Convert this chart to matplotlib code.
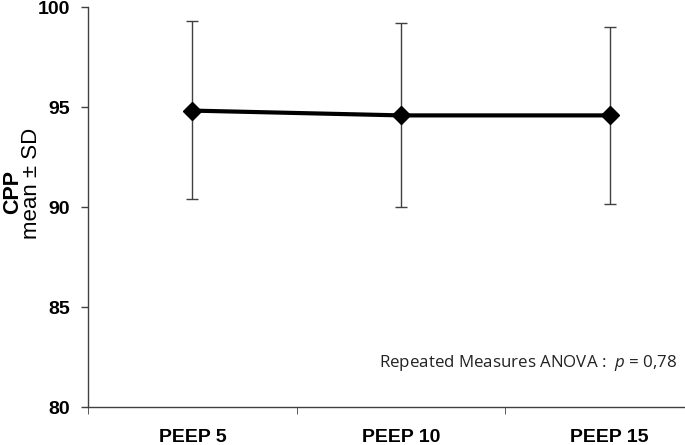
import matplotlib
matplotlib.use("Agg")
import matplotlib.pyplot as plt

plt.rcParams['font.family'] = ['Liberation Sans', 'DejaVu Sans']
plt.rcParams['mathtext.fontset'] = 'custom'
plt.rcParams['mathtext.rm'] = 'Open Sans'
plt.rcParams['mathtext.it'] = 'Open Sans:italic'

categories = ['PEEP 5', 'PEEP 10', 'PEEP 15']
means = [94.82, 94.58, 94.58]
upper = [99.28, 99.18, 99.0]
lower = [90.38, 90.0, 90.17]

err_low = [m - l for m, l in zip(means, lower)]
err_high = [u - m for m, u in zip(means, upper)]
x = list(range(len(categories)))

fig = plt.figure(figsize=(6.85, 4.45), dpi=100)
ax = fig.add_axes([88 / 685, 38 / 445, 626 / 685, 400 / 445])

ax.errorbar(x, means, yerr=[err_low, err_high], fmt='none', ecolor='#404040',
            elinewidth=1, capsize=4, capthick=1, zorder=2)
ax.plot(x, means, color='black', lw=3, marker='D', markersize=9, zorder=3)

ax.set_xlim(-0.5, 2.5)
ax.set_ylim(80, 100)
ax.set_yticks([80, 85, 90, 95, 100])
ax.set_xticks([0, 1, 2])
ax.set_xticklabels(categories, fontsize=14, fontweight='bold')
ax.tick_params(axis='x', length=0, pad=16)
ax.tick_params(axis='y', direction='out', length=5, width=1, color='#404040', labelsize=14, pad=8)
for lab in ax.get_yticklabels():
    lab.set_fontweight('bold')
ax.set_xticks([-0.5, 0.5, 1.5, 2.5], minor=True)
ax.tick_params(axis='x', which='minor', direction='out', length=5, color='#404040')

for s in ['top', 'right']:
    ax.spines[s].set_visible(False)
for s in ['left', 'bottom']:
    ax.spines[s].set_color('#404040')
    ax.spines[s].set_linewidth(1)

fig.text(13 / 685, 1 - 192 / 445, 'CPP', rotation=90, ha='center', va='center',
         fontsize=15.5, fontweight='bold')
fig.text(32 / 685, 1 - 183 / 445, 'mean ± SD', rotation=90, ha='center', va='center',
         fontsize=16)

fig.text(677 / 685, 1 - 363 / 445, r'Repeated Measures ANOVA :  $\mathit{p}$ = 0,78',
         ha='right', va='center', fontsize=12.2, family='Open Sans', color='#222222')

fig.savefig('out.png', dpi=100)
